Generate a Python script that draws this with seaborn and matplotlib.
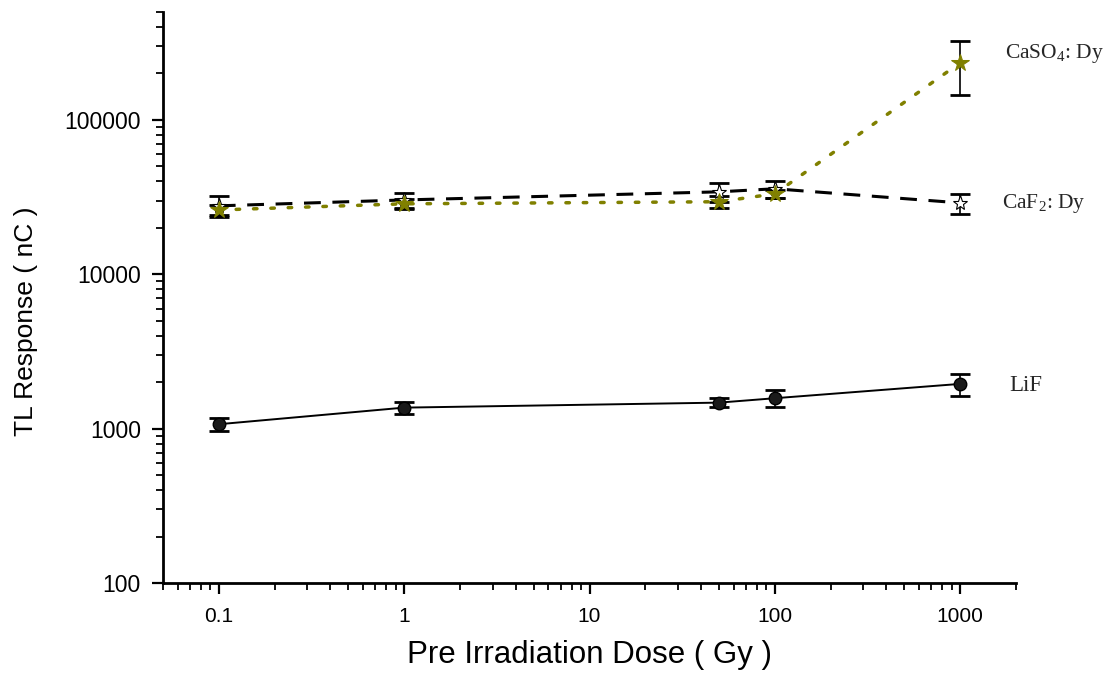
import numpy as np
import pandas as pd
import matplotlib
matplotlib.use("Agg")
import matplotlib.pyplot as plt
import seaborn as sns
from matplotlib.ticker import LogLocator, NullFormatter, FixedLocator, FixedFormatter

# ---- data ----
dose = [0.1, 1, 50, 100, 1000]
lif = [1068, 1368, 1474, 1574, 1949]
lif_err = [100, 128, 100, 200, 310]
caf2 = [27750, 30300, 34200, 35800, 29000]
caf2_err = [4300, 3500, 5000, 4500, 4300]
caso4 = [26100, 28600, 29500, 33200, 234500]
caso4_err = [2000, 2000, 2800, 2000, 90000]
series_labels = ["LiF", "CaF$_2$: Dy", "CaSO$_4$: Dy"]
xticks = [0.1, 1, 10, 100, 1000]
xticklabels = ["0.1", "1", "10", "100", "1000"]
yticks = [100, 1000, 10000, 100000]
yticklabels = ["100", "1000", "10000", "100000"]

sns.set_theme(style="ticks")
plt.rcParams['font.family'] = ['Liberation Sans', 'DejaVu Sans']
plt.rcParams['mathtext.fontset'] = 'custom'
plt.rcParams['mathtext.rm'] = 'Liberation Serif'
plt.rcParams['mathtext.it'] = 'Liberation Serif:italic'

fig = plt.figure(figsize=(11.04, 6.79), dpi=100)
ax = fig.add_axes([163/1104, 96/679, (1016-163)/1104, (583-12)/679])
ax.set_xscale("log")
ax.set_yscale("log")

olive = "#808000"
cap = 7.5

# CaF2 (dashed, white stars)
ax.errorbar(dose, caf2, yerr=caf2_err, fmt="none", ecolor="black",
            elinewidth=1.2, capsize=cap, capthick=2, zorder=3)
sns.lineplot(x=dose, y=caf2, ax=ax, color="black", linewidth=2.2,
             linestyle=(0, (5.5, 3.8)), marker="*", markersize=11,
             markerfacecolor="white", markeredgecolor="black",
             markeredgewidth=0.8, sort=False, zorder=4)

# CaSO4 (dotted olive, olive stars)
ax.errorbar(dose, caso4, yerr=caso4_err, fmt="none", ecolor="black",
            elinewidth=1.2, capsize=cap, capthick=2, zorder=3)
sns.lineplot(x=dose, y=caso4, ax=ax, color=olive, linewidth=2.5,
             linestyle=(0, (1, 4)), marker="*", markersize=13,
             markerfacecolor=olive, markeredgecolor=olive,
             dash_capstyle="round", sort=False, zorder=5)

# LiF (solid, black balls)
ax.errorbar(dose, lif, yerr=lif_err, fmt="none", ecolor="black",
            elinewidth=1.2, capsize=cap, capthick=2, zorder=3)
sns.lineplot(x=dose, y=lif, ax=ax, color="black", linewidth=1.4,
             marker="o", markersize=9, markerfacecolor="#1a1a1a",
             markeredgecolor="black", markeredgewidth=1.0, sort=False, zorder=4)

# labels at the end of each series
ax.annotate(series_labels[2], xy=(dose[-1], caso4[-1]), xytext=(45, 9),
            textcoords="offset pixels", va="center", ha="left",
            fontsize=15.5, family="Liberation Serif")
ax.annotate(series_labels[1], xy=(dose[-1], caf2[-1]), xytext=(42, -1),
            textcoords="offset pixels", va="center", ha="left",
            fontsize=15.5, family="Liberation Serif")
ax.annotate(series_labels[0], xy=(dose[-1], lif[-1]), xytext=(49, -2),
            textcoords="offset pixels", va="center", ha="left",
            fontsize=16.5, family="Liberation Serif")

ax.set_xlim(0.05, 2000)
ax.set_ylim(100, 500000)

ax.xaxis.set_major_locator(FixedLocator(xticks))
ax.xaxis.set_major_formatter(FixedFormatter(xticklabels))
ax.xaxis.set_minor_locator(LogLocator(base=10, subs=np.arange(2, 10), numticks=20))
ax.xaxis.set_minor_formatter(NullFormatter())
ax.yaxis.set_major_locator(FixedLocator(yticks))
ax.yaxis.set_major_formatter(FixedFormatter(yticklabels))
ax.yaxis.set_minor_locator(LogLocator(base=10, subs=np.arange(2, 10), numticks=20))
ax.yaxis.set_minor_formatter(NullFormatter())

ax.tick_params(which="major", direction="out", length=8, width=1.6,
               color="black", labelcolor="black")
ax.tick_params(axis="x", which="major", labelsize=15, pad=9)
ax.tick_params(axis="y", which="major", labelsize=16.5, pad=8)
ax.tick_params(which="minor", direction="out", length=5, width=1.3, color="black")

for s in ["top", "right"]:
    ax.spines[s].set_visible(False)
for s in ["left", "bottom"]:
    ax.spines[s].set_linewidth(2)
    ax.spines[s].set_color("black")

ax.set_xlabel("Pre Irradiation Dose ( Gy )", fontsize=22.5, color="black")
ax.set_ylabel("TL Response ( nC )", fontsize=19, color="black")
ax.xaxis.set_label_coords(0.5, -0.1)
ax.yaxis.set_label_coords(-0.146, 0.459)
ax.grid(False)

fig.savefig("out.png", dpi=100)
